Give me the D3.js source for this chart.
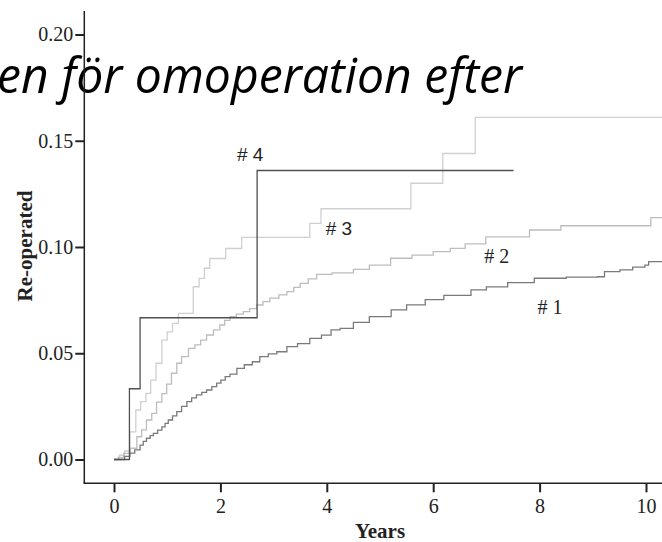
<!DOCTYPE html>
<html>
<head>
<meta charset="utf-8">
<script src="https://cdn.jsdelivr.net/npm/d3@7"></script>
<style>
  body { margin: 0; background: #fff; }
  svg { display: block; }
</style>
</head>
<body>
<svg id="canvas" width="662" height="542"></svg>
<script>
// step curves: time in years, cumulative re-operation
let group1Times = [0, 0.2, 0.3, 0.39, 0.49, 0.55, 0.61, 0.68, 0.74, 0.82, 0.9, 0.96, 1.02, 1.1, 1.18, 1.27, 1.37, 1.46, 1.55, 1.65, 1.74, 1.84, 1.93, 2.01, 2.09, 2.18, 2.31, 2.45, 2.6, 2.74, 2.9, 3.06, 3.25, 3.45, 3.68, 3.9, 4.08, 4.25, 4.5, 4.8, 5.21, 5.5, 5.85, 6.2, 6.71, 7.0, 7.4, 7.9, 8.5, 9.09, 9.22, 9.51, 9.75, 9.98, 10.05, 10.4]
let group1Values = [0, 0.0015, 0.003, 0.0045, 0.0068, 0.0085, 0.01, 0.0112, 0.0123, 0.0138, 0.0154, 0.017, 0.0186, 0.0205, 0.0225, 0.025, 0.0272, 0.029, 0.0304, 0.0316, 0.0327, 0.0343, 0.0359, 0.0374, 0.039, 0.0402, 0.0429, 0.0446, 0.046, 0.0484, 0.0497, 0.0507, 0.0531, 0.0545, 0.057, 0.0585, 0.061, 0.0617, 0.0645, 0.0672, 0.0704, 0.0728, 0.0752, 0.0772, 0.0798, 0.0812, 0.0832, 0.0853, 0.0858, 0.086, 0.0884, 0.0892, 0.0905, 0.0915, 0.0931, 0.0931]

let group2Times = [0, 0.08, 0.18, 0.31, 0.43, 0.52, 0.61, 0.71, 0.8, 0.9, 0.99, 1.08, 1.18, 1.27, 1.4, 1.52, 1.63, 1.74, 1.87, 1.99, 2.08, 2.18, 2.3, 2.43, 2.55, 2.68, 2.8, 2.93, 3.1, 3.25, 3.38, 3.5, 3.65, 3.81, 4.1, 4.5, 4.8, 5.2, 5.6, 6.0, 6.32, 6.6, 6.99, 7.81, 8.4, 10.09, 10.4]
let group2Values = [0, 0.001, 0.0029, 0.0053, 0.0107, 0.0139, 0.0186, 0.0217, 0.027, 0.031, 0.0355, 0.0406, 0.0453, 0.0484, 0.0523, 0.0539, 0.0562, 0.0586, 0.061, 0.0633, 0.0655, 0.0672, 0.0684, 0.0696, 0.071, 0.0727, 0.0743, 0.0759, 0.0775, 0.079, 0.081, 0.0829, 0.085, 0.0871, 0.0878, 0.0895, 0.0915, 0.0947, 0.0962, 0.0978, 0.0994, 0.1015, 0.1048, 0.108, 0.11, 0.1138, 0.1138]

let group3Times = [0, 0.1, 0.2, 0.3, 0.41, 0.5, 0.6, 0.69, 0.79, 0.9, 1.0, 1.1, 1.21, 1.49, 1.6, 1.7, 1.8, 2.1, 2.4, 3.68, 3.89, 5.58, 6.18, 6.79, 10.4]
let group3Values = [0, 0.002, 0.004, 0.013, 0.0233, 0.0272, 0.0311, 0.0374, 0.0453, 0.0562, 0.0601, 0.0641, 0.0688, 0.0813, 0.0852, 0.09, 0.0946, 0.0993, 0.1045, 0.1111, 0.118, 0.13, 0.144, 0.161, 0.161]

let group4Times = [0, 0.29, 0.49, 2.69, 7.51]
let group4Values = [0, 0.0333, 0.0667, 0.136, 0.136]

let groupNames = ['# 1', '# 2', '# 3', '# 4']
let labelTimes = [7.96, 6.96, 3.98, 2.31]
let labelValues = [0.0685, 0.0925, 0.1056, 0.1405]

let xTicks = [0, 2, 4, 6, 8, 10]
let yTicks = [0, 0.05, 0.10, 0.15, 0.20]

let svg = d3.select('#canvas')

let xScale = d3.scaleLinear().domain([0, 10]).range([114, 646])
let yScale = d3.scaleLinear().domain([0, 0.2]).range([459.5, 34.5])

let lineColors = ['#7a7a7a', '#bdbdbd', '#d0d0d0', '#505050']
let labelFonts = ['Liberation Serif', 'Liberation Serif', 'Liberation Sans', 'Liberation Sans']
let labelSizes = ['20px', '20px', '19px', '19px']

// slide title, partly cut off by the crop
svg.append('text')
    .text('en för omoperation efter')
    .attr('x', -3)
    .attr('y', 93)
    .attr('textLength', 525)
    .attr('lengthAdjust', 'spacingAndGlyphs')
    .style('font-family', 'Open Sans')
    .style('font-style', 'italic')
    .style('font-size', '50px')
    .style('fill', '#000')

// axis spines
svg.append('line')
    .attr('x1', 84.3).attr('x2', 84.3)
    .attr('y1', 11).attr('y2', 483.5)
    .style('stroke', '#222').style('stroke-width', 1.5)
svg.append('line')
    .attr('x1', 83.5).attr('x2', 662)
    .attr('y1', 483.3).attr('y2', 483.3)
    .style('stroke', '#222').style('stroke-width', 1.5)

let yAxis = d3.axisLeft(yScale)
    .tickValues(yTicks)
    .tickFormat(d3.format('.2f'))
    .tickSize(9)
    .tickPadding(2)
let yG = svg.append('g')
    .attr('transform', 'translate(84.3,0)')
    .call(yAxis)
yG.select('.domain').remove()

let xAxis = d3.axisBottom(xScale)
    .tickValues(xTicks)
    .tickFormat(d3.format('d'))
    .tickSize(9)
    .tickPadding(6.5)
let xG = svg.append('g')
    .attr('transform', 'translate(0,483.3)')
    .call(xAxis)
xG.select('.domain').remove()

svg.selectAll('.tick line')
    .style('stroke', '#222')
    .style('stroke-width', 2)
svg.selectAll('.tick text')
    .style('font-family', 'Liberation Serif')
    .style('font-size', '20px')
    .style('fill', '#222')

// axis titles
svg.append('text')
    .text('Years')
    .attr('x', 380)
    .attr('y', 538)
    .style('text-anchor', 'middle')
    .style('font-family', 'Liberation Serif')
    .style('font-weight', 'bold')
    .style('font-size', '21px')
    .style('fill', '#222')

svg.append('text')
    .text('Re-operated')
    .attr('transform', 'translate(32,246) rotate(-90)')
    .style('text-anchor', 'middle')
    .style('font-family', 'Liberation Serif')
    .style('font-weight', 'bold')
    .style('font-size', '21px')
    .style('fill', '#222')

// curves
let series = [
    d3.zip(group1Times, group1Values),
    d3.zip(group2Times, group2Values),
    d3.zip(group3Times, group3Values),
    d3.zip(group4Times, group4Values)
]

let stepLine = d3.line()
    .x((d) => {return xScale(d[0])})
    .y((d) => {return yScale(d[1])})
    .curve(d3.curveStepAfter)

// draw light curves first so the darker ones sit on top
let drawOrder = [2, 1, 0, 3]
drawOrder.forEach((i) => {
    svg.append('path')
        .datum(series[i])
        .attr('d', stepLine)
        .style('fill', 'none')
        .style('stroke', lineColors[i])
        .style('stroke-width', 1.3)
})

svg.selectAll('.group-label')
    .data(groupNames)
    .enter()
    .append('text')
    .attr('class', 'group-label')
    .text((d) => {return d})
    .attr('x', (d, i) => {return xScale(labelTimes[i])})
    .attr('y', (d, i) => {return yScale(labelValues[i])})
    .style('font-family', (d, i) => {return labelFonts[i]})
    .style('font-size', (d, i) => {return labelSizes[i]})
    .style('fill', '#222')
</script>
</body>
</html>
